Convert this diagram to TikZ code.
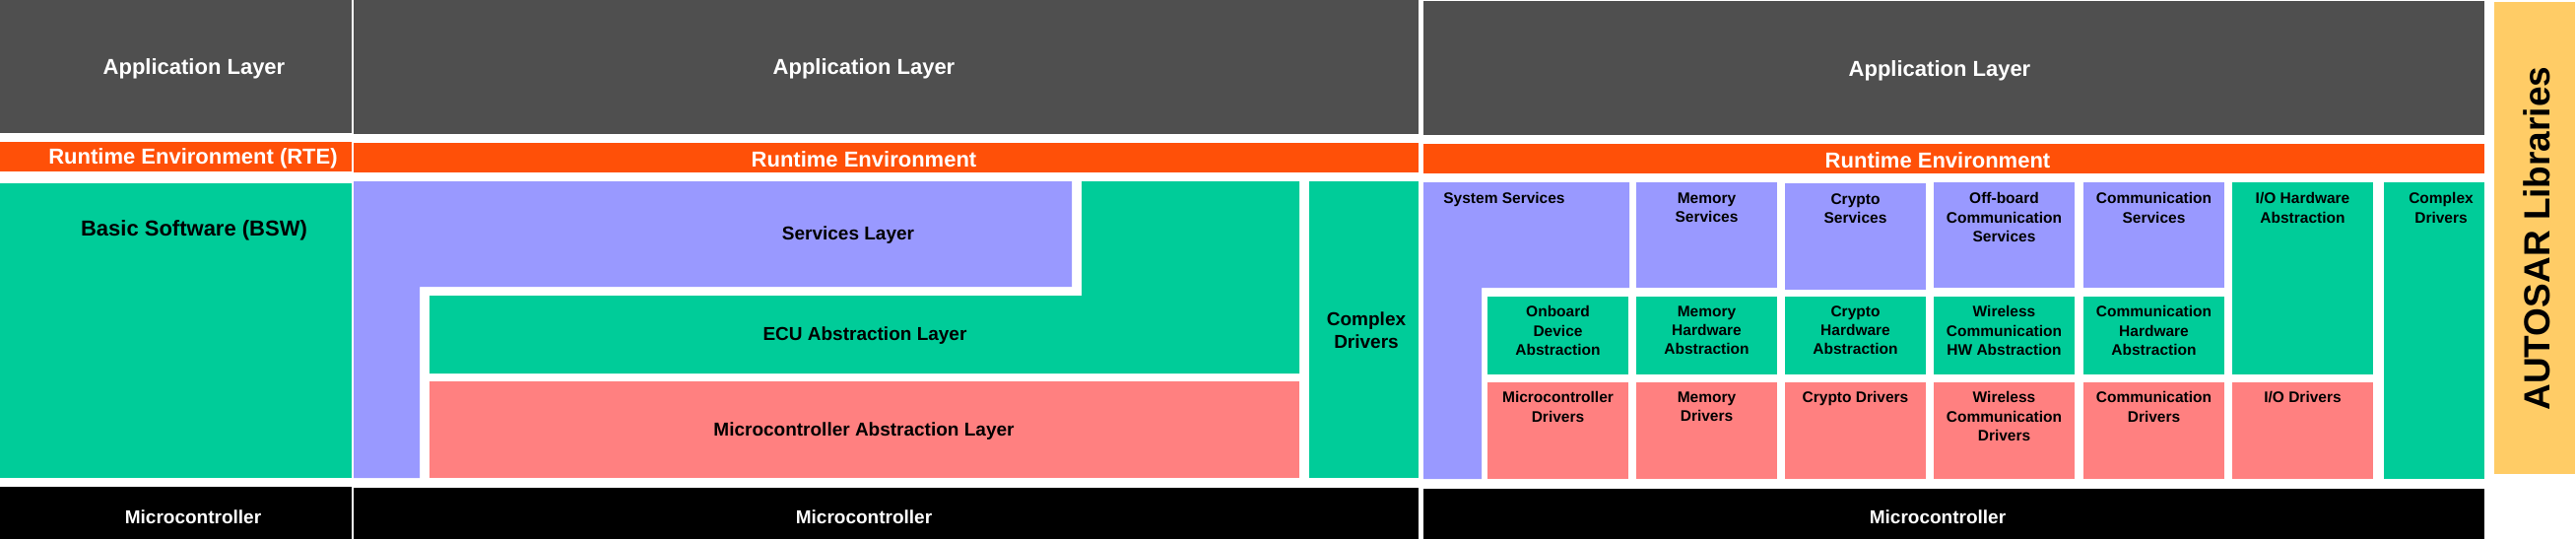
\documentclass[tikz,border=0pt]{standalone}
\usepackage{fontspec}
\setmainfont{Liberation Sans}
\definecolor{appgray}{RGB}{79,79,79}
\definecolor{rteorange}{RGB}{255,80,8}
\definecolor{bswgreen}{RGB}{0,204,153}
\definecolor{srvpurple}{RGB}{153,153,255}
\definecolor{mcalred}{RGB}{255,128,128}
\definecolor{libyellow}{RGB}{255,204,102}
\tikzset{
  bigtxt/.style={text=white, inner sep=0pt, font=\bfseries\fontsize{22}{26}\selectfont},
  mctxt/.style={text=white, inner sep=0pt, font=\bfseries\fontsize{19}{23}\selectfont},
  laytxt/.style={inner sep=0pt, align=center, font=\bfseries\fontsize{19}{23}\selectfont},
  celltxt/.style={anchor=north, inner sep=0pt, align=center, font=\bfseries\fontsize{15.5}{19.2}\selectfont},
}
\begin{document}
\begin{tikzpicture}[x=1pt,y=-1pt]
  \useasboundingbox (0,0) rectangle (2615,547);
  % left: overview
  \fill[appgray] (0,0) rectangle (357,135);
  \fill[rteorange] (0,144) rectangle (357,174);
  \fill[bswgreen] (0,186) rectangle (357,485);
  \fill[black] (0,494) rectangle (357,547);
  \node[bigtxt] (app1) at (197,70) {Application Layer};
  \node[bigtxt] (rte1) at (196,161) {Runtime Environment (RTE)};
  \node[bigtxt, text=black] (bsw1) at (197,234) {Basic Software (BSW)};
  \node[mctxt] (mc1) at (196,525) {Microcontroller};

  % middle: layers
  \fill[appgray] (359,0) rectangle (1440,136);
  \fill[rteorange] (359,145) rectangle (1440,175);
  \fill[srvpurple] (359,184) -- (1088,184) -- (1088,291) -- (426,291)
    -- (426,485) -- (359,485) -- cycle;
  \fill[bswgreen] (436,300) -- (1098,300) -- (1098,184) -- (1319,184)
    -- (1319,379) -- (436,379) -- cycle;
  \fill[mcalred] (436,387) rectangle (1319,485);
  \fill[bswgreen] (1329,184) rectangle (1440,485);
  \fill[black] (359,495) rectangle (1440,547);
  \node[bigtxt] (app2) at (877,70) {Application Layer};
  \node[bigtxt] (rte2) at (877,162) {Runtime Environment};
  \node[laytxt] (srv2) at (861,239) {Services Layer};
  \node[laytxt] (ecu2) at (878,341) {ECU Abstraction Layer};
  \node[laytxt] (mcal2) at (877,438) {Microcontroller Abstraction Layer};
  \node[laytxt] (cdd2) at (1387,335) {Complex\\Drivers};
  \node[mctxt] (mc2) at (877,525) {Microcontroller};

  % right: stacks
  \fill[appgray] (1445,1) rectangle (2522,137);
  \fill[rteorange] (1445,146) rectangle (2522,176);
  \fill[srvpurple] (1445,185) -- (1654,185) -- (1654,292) -- (1504,292)
    -- (1504,486) -- (1445,486) -- cycle;
  \fill[srvpurple] (1661,185) rectangle (1804,292);
  \fill[srvpurple] (1812,186) rectangle (1955,294);
  \fill[srvpurple] (1963,185) rectangle (2106,292);
  \fill[srvpurple] (2115,185) rectangle (2258,292);
  \fill[bswgreen] (2266,185) rectangle (2409,380);
  \fill[bswgreen] (2420,185) rectangle (2522,486);
  \fill[bswgreen] (1510,301) rectangle (1653,380);
  \fill[bswgreen] (1661,301) rectangle (1804,380);
  \fill[bswgreen] (1812,301) rectangle (1955,380);
  \fill[bswgreen] (1963,301) rectangle (2106,380);
  \fill[bswgreen] (2115,301) rectangle (2258,380);
  \fill[mcalred] (1510,388) rectangle (1653,486);
  \fill[mcalred] (1661,388) rectangle (1804,486);
  \fill[mcalred] (1812,388) rectangle (1955,486);
  \fill[mcalred] (1963,388) rectangle (2106,486);
  \fill[mcalred] (2115,388) rectangle (2258,486);
  \fill[mcalred] (2266,388) rectangle (2409,486);
  \fill[black] (1445,496) rectangle (2522,547);
  \node[bigtxt] (app3) at (1969,72) {Application Layer};
  \node[bigtxt] (rte3) at (1967,163) {Runtime Environment};
  \node[mctxt] (mc3) at (1967,525) {Microcontroller};

  \node[celltxt] (syssrv) at (1527,195.5) {System Services};
  \node[celltxt] (memsrv) at (1732.5,195.5) {Memory\\Services};
  \node[celltxt] (cryptosrv) at (1883.5,196.5) {Crypto\\Services};
  \node[celltxt] (offbsrv) at (2034.5,195.5) {Off-board\\Communication\\Services};
  \node[celltxt] (comsrv) at (2186.5,195.5) {Communication\\Services};
  \node[celltxt] (iohwa) at (2337.5,195.5) {I/O Hardware\\Abstraction};
  \node[celltxt] (cdd3) at (2478,195.5) {Complex\\Drivers};

  \node[celltxt] (obdhwa) at (1581.5,310.5) {Onboard\\Device\\Abstraction};
  \node[celltxt] (memhwa) at (1732.5,310.5) {Memory\\Hardware\\Abstraction};
  \node[celltxt] (cryptohwa) at (1883.5,310.5) {Crypto\\Hardware\\Abstraction};
  \node[celltxt] (wlhwa) at (2034.5,310.5) {Wireless\\Communication\\HW Abstraction};
  \node[celltxt] (comhwa) at (2186.5,310.5) {Communication\\Hardware\\Abstraction};

  \node[celltxt] (mcudrv) at (1581.5,397.5) {Microcontroller\\Drivers};
  \node[celltxt] (memdrv) at (1732.5,397.5) {Memory\\Drivers};
  \node[celltxt] (cryptodrv) at (1883.5,397.5) {Crypto Drivers};
  \node[celltxt] (wldrv) at (2034.5,397.5) {Wireless\\Communication\\Drivers};
  \node[celltxt] (comdrv) at (2186.5,397.5) {Communication\\Drivers};
  \node[celltxt] (iodrv) at (2337.5,397.5) {I/O Drivers};

  % libraries
  \fill[libyellow] (2532,2) rectangle (2614,481);
  \node[rotate=90, inner sep=0pt, font=\bfseries\fontsize{37}{40}\selectfont]
    (libs) at (2575,242) {AUTOSAR Libraries};
\end{tikzpicture}
\end{document}
